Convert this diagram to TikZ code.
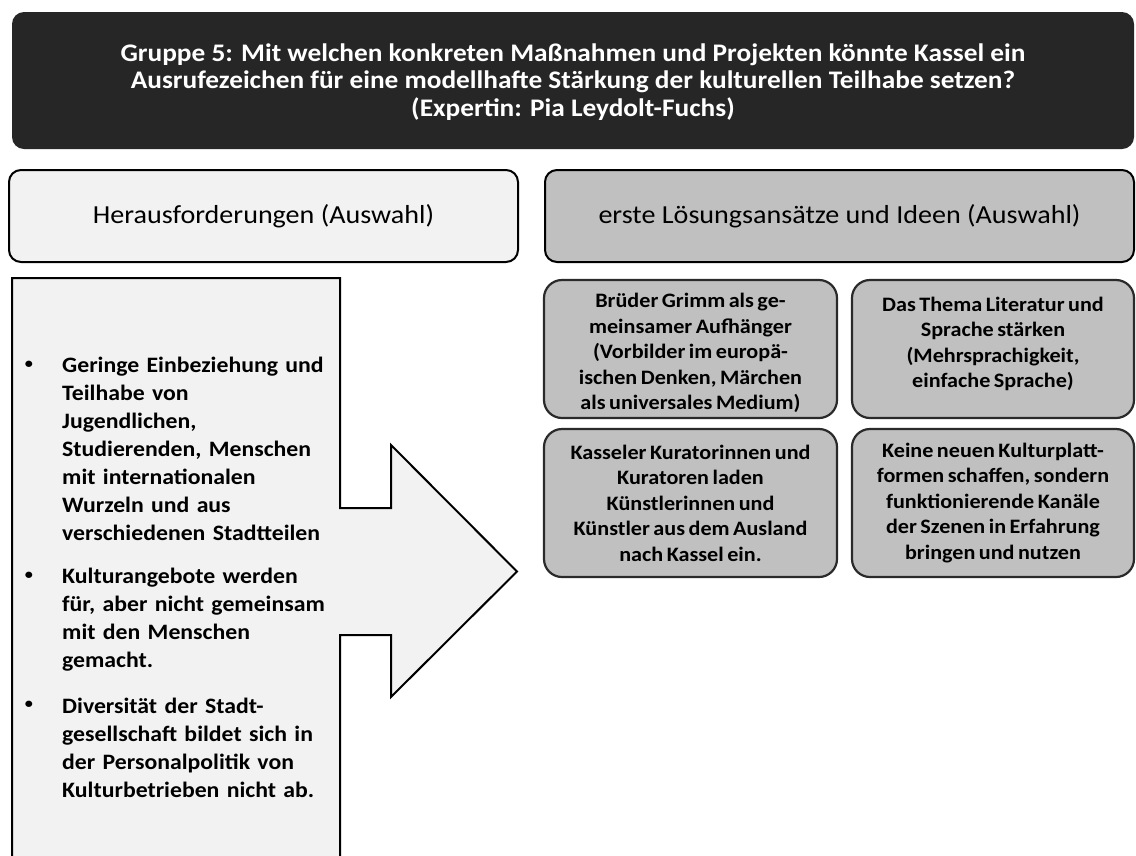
\documentclass[tikz,border=0pt]{standalone}
\usepackage{fontspec}
\setmainfont{Carlito}[FakeStretch=1.08]
\newfontfamily\tightfont{Carlito}[FakeStretch=1.08, WordSpace=0.7]
\definecolor{titlefill}{HTML}{262626}
\definecolor{lightfill}{HTML}{F2F2F2}
\definecolor{midfill}{HTML}{C0C0C0}
\definecolor{boxline}{HTML}{2A2A2A}
\begin{document}
\begin{tikzpicture}[x=1pt,y=-1pt,
  titlebox/.style={fill=titlefill, rounded corners=12pt, text=white, align=center,
    font=\fontsize{25.3}{27.5}\selectfont\bfseries, inner sep=0pt},
  headbox/.style={draw=black, line width=2pt, rounded corners=12pt, align=center,
    font=\fontsize{26}{30}\selectfont, inner sep=0pt},
  ideabox/.style={draw=boxline, line width=2.2pt, fill=midfill, rounded corners=18pt,
    align=center, inner sep=0pt, font=\tightfont\fontsize{20.5}{25.5}\selectfont\bfseries},
  bullettext/.style={anchor=north west, inner sep=0pt, align=left, text width=300pt,
    font=\tightfont\fontsize{22}{28}\selectfont\bfseries},
  bulletdot/.style={anchor=center, inner sep=0pt, font=\fontsize{15}{15}\selectfont\bfseries},
  arrowshape/.style={draw=black, line width=2pt, fill=lightfill, line join=miter}]
\useasboundingbox (0,0) rectangle (1136,855);
\fill[white] (0,0) rectangle (1136,855);
\begin{scope}
\clip (0,0) rectangle (1136,855);
% title
\node[titlebox, minimum width=1122pt, minimum height=137pt] (title) at (573,80.5) {};
\node[titlebox, fill=none] (titletext) at (573,82)
  {Gruppe 5: Mit welchen konkreten Maßnahmen und Projekten könnte Kassel ein\\
   Ausrufezeichen für eine modellhafte Stärkung der kulturellen Teilhabe setzen?\\
   (Expertin: Pia Leydolt-Fuchs)};
% headers
\node[headbox, fill=lightfill, minimum width=509pt, minimum height=92pt] (hleft) at (263.5,216)
  {Herausforderungen (Auswahl)};
\node[headbox, fill=midfill, minimum width=589pt, minimum height=92pt] (hright) at (839.5,216)
  {erste Lösungsansätze und Ideen (Auswahl)};
% arrow
\draw[arrowshape] (12,278) -- (340,278) -- (340,508) -- (391,508) -- (391,445)
  -- (517,571.5) -- (391,697) -- (391,635) -- (340,635) -- (340,880) -- (12,880) -- cycle;
% bullets
\node[bulletdot] (d1) at (29,365) {•};
\node[bullettext] (b1) at (62,357)
  {Geringe Einbeziehung und\\Teilhabe von\\Jugendlichen,\\Studierenden, Menschen\\mit internationalen\\Wurzeln und aus\\verschiedenen Stadtteilen};
\node[bulletdot] (d2) at (29,576) {•};
\node[bullettext] (b2) at (62,568)
  {Kulturangebote werden\\für, aber nicht gemeinsam\\mit den Menschen\\gemacht.};
\node[bulletdot] (d3) at (29,705) {•};
\node[bullettext] (b3) at (62,698)
  {Diversität der Stadt-\\gesellschaft bildet sich in\\der Personalpolitik von\\Kulturbetrieben nicht ab.};
% idea boxes
\node[ideabox, minimum width=293pt, minimum height=138pt] (i1) at (690.5,349) {};
\node[ideabox, draw=none, fill=none] (i1text) at (690.5,353)
  {Brüder Grimm als ge-\\meinsamer Aufhänger\\(Vorbilder im europä-\\ischen Denken, Märchen\\als universales Medium)};
\node[ideabox, minimum width=282pt, minimum height=138pt] (i2) at (993,349) {};
\node[ideabox, draw=none, fill=none] (i2text) at (993,344)
  {Das Thema Literatur und\\Sprache stärken\\(Mehrsprachigkeit,\\einfache Sprache)};
\node[ideabox, minimum width=293pt, minimum height=148pt] (i3) at (690.5,503)
  {Kasseler Kuratorinnen und\\Kuratoren laden\\Künstlerinnen und\\Künstler aus dem Ausland\\nach Kassel ein.};
\node[ideabox, minimum width=282pt, minimum height=148pt] (i4) at (993,503)
  {Keine neuen Kulturplatt-\\formen schaffen, sondern\\funktionierende Kanäle\\der Szenen in Erfahrung\\bringen und nutzen};
\end{scope}
\end{tikzpicture}
\end{document}
